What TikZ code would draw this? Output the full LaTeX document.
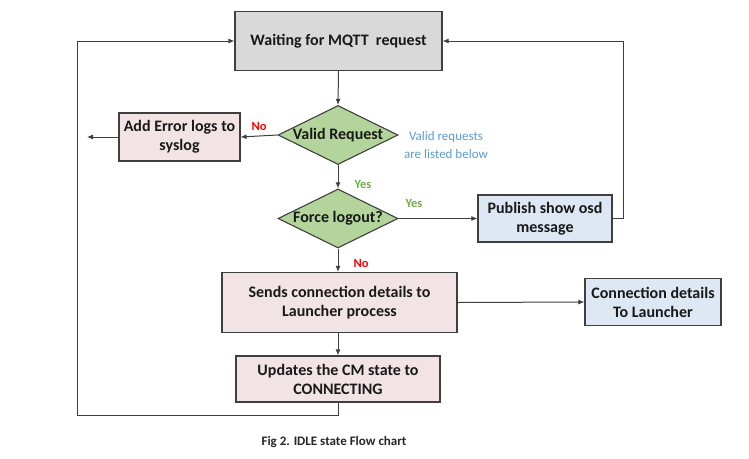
\documentclass[tikz,border=0pt]{standalone}
\usepackage{fontspec}
\setmainfont{Carlito}
\usetikzlibrary{shapes.geometric,arrows.meta}
\definecolor{edgec}{HTML}{3F3F3F}
\definecolor{grayfill}{HTML}{D9D9D9}
\definecolor{pinkfill}{HTML}{F2E4E4}
\definecolor{bluefill}{HTML}{DDE8F4}
\definecolor{greenfill}{HTML}{B3D59C}
\definecolor{noc}{HTML}{FF0000}
\definecolor{yesc}{HTML}{70AD47}
\definecolor{notec}{HTML}{5B9BD5}
\newcommand{\zbox}[1]{\smash{\makebox[0pt]{#1}}}
\tikzset{
  box/.style={draw=edgec, line width=1.1pt, align=center, inner sep=0pt, font=\fontsize{16}{19}\selectfont\bfseries, text=black!90},
  dec/.style={diamond, draw=edgec, line width=1.1pt, fill=greenfill, inner sep=0pt, font=\fontsize{16}{19}\selectfont\bfseries, text=black!90},
  conn/.style={draw=edgec, line width=1pt},
  arr/.style={conn, -{Latex[length=6pt,width=5pt]}},
  nolab/.style={text=noc, font=\fontsize{12.5}{14}\selectfont\bfseries},
  yeslab/.style={text=yesc, font=\fontsize{12.5}{14}\selectfont\bfseries},
}
\begin{document}
\begin{tikzpicture}[x=1pt,y=-1pt]
\useasboundingbox (0,0) rectangle (749,458);
\node[box, fill=grayfill, minimum width=207pt, minimum height=59pt] (wait) at (338.5,41) {Waiting for MQTT\ \ request};
\node[dec, minimum width=120pt, minimum height=59pt] (valid) at (338,135) {};
\node at (valid.center) [font=\fontsize{16}{19}\selectfont\bfseries, text=black!90] (validt) {Valid Request};
\node[box, fill=pinkfill, minimum width=121pt, minimum height=48pt] (err) at (179.5,137) {Add Error logs to\\syslog};
\coordinate (errend) at (87,137);
\node[dec, minimum width=120pt, minimum height=59pt] (force) at (338,218.5) {};
\node at (force.center) [font=\fontsize{16}{19}\selectfont\bfseries, text=black!90] (forcet) {Force logout?};
\node[box, fill=bluefill, minimum width=134pt, minimum height=47pt] (pub) at (545,218.5) {Publish show osd\\message};
\node[box, fill=pinkfill, minimum width=235pt, minimum height=60pt] (sends) at (339.5,302.5) {Sends connection details to\\Launcher process};
\node[box, fill=bluefill, minimum width=136pt, minimum height=47pt] (cdl) at (653,302) {Connection details\\To Launcher};
\node[box, fill=pinkfill, minimum width=204pt, minimum height=46pt] (upd) at (338,379) {Updates the CM state to\\CONNECTING};
\coordinate (loopL) at (77,415);
\coordinate (loopR) at (623,218.5);

\draw[arr] (wait.south) -- (valid.north);
\draw[arr] (valid.west) -- (err.east) node[nolab, pos=0.5, above=2pt] {No};
\draw[arr] (err.west) -- (errend);
\draw[arr] (valid.south) -- (force.north);
\node[yeslab] at (363,184) {Yes};
\draw[arr] (force.east) -- (pub.west);
\node[yeslab] at (414,203) {Yes};
\draw[arr] (pub.east) -- (loopR) |- (wait.east);
\draw[arr] (force.south) -- (force.south |- sends.north);
\node[nolab] at (361,263) {No};
\draw[arr] (sends.east) -- (cdl.west);
\draw[arr] (upd.north |- sends.south) -- (upd.north);
\draw[arr] (upd.south) |- (loopL) |- (wait.west);
\node[text=notec, align=center, font=\fontsize{13}{18}\selectfont] at (446,145) {Valid requests\\are listed below};
\node[font=\fontsize{13}{15}\selectfont\bfseries, text=black!85] at (334,442) {Fig 2. IDLE state Flow chart};
\end{tikzpicture}
\end{document}
